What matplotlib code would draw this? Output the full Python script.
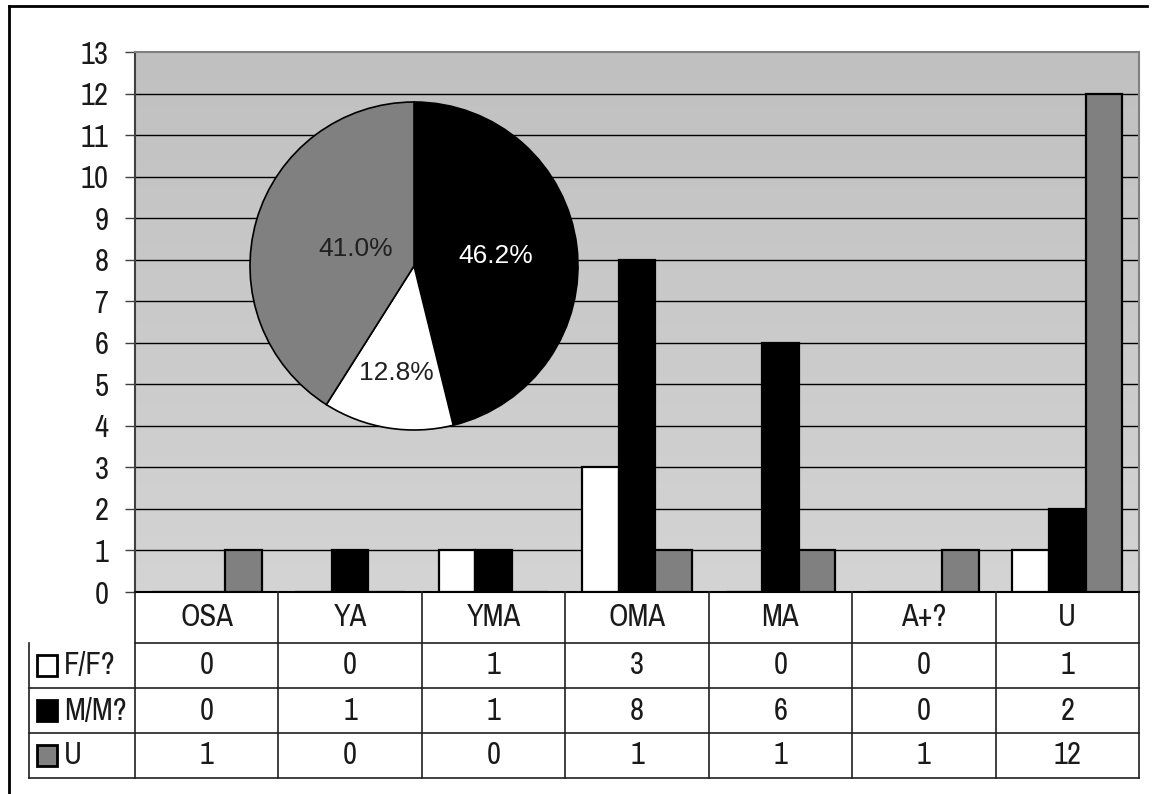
import numpy as np
import matplotlib
matplotlib.use("Agg")
import matplotlib.pyplot as plt
from matplotlib.lines import Line2D
from matplotlib.patches import Rectangle
import matplotlib.transforms as mtransforms

# data
categories = ["OSA", "YA", "YMA", "OMA", "MA", "A+?", "U"]
series_names = ["F/F?", "M/M?", "U"]
f_vals = [0, 0, 1, 3, 0, 0, 1]
m_vals = [0, 1, 1, 8, 6, 0, 2]
u_vals = [1, 0, 0, 1, 1, 1, 12]
yticks = list(range(0, 14))

colors = ["#FFFFFF", "#000000", "#808080"]

plt.rcParams['font.family'] = ['Archivo Narrow', 'DejaVu Sans']
plt.rcParams['font.weight'] = 'normal'
FS = 22
TXT = "#1A1A1A"

W, H = 1158, 794
fig = plt.figure(figsize=(W / 100, H / 100), dpi=100)

def px(x0, y0, x1, y1):
    return [x0 / W, 1 - y1 / H, (x1 - x0) / W, (y1 - y0) / H]

ax = fig.add_axes(px(135, 52, 1139, 592))
ax.set_xlim(-0.5, len(categories) - 0.5)
ax.set_ylim(0, 13)

# background gradient
grad = np.linspace(0, 1, 256).reshape(-1, 1)
cmap = matplotlib.colors.LinearSegmentedColormap.from_list("g", ["#D4D4D4", "#C0C0C0"])
ax.imshow(grad, extent=[0, 1, 0, 1], transform=ax.transAxes, cmap=cmap,
          origin="lower", aspect="auto", zorder=0)

for y in yticks[1:-1]:
    ax.axhline(y, color="black", lw=1, zorder=1)

x = np.arange(len(categories))
bw = 0.255
for i, vals in enumerate([f_vals, m_vals, u_vals]):
    ax.bar(x + (i - 1) * bw, vals, width=bw, color=colors[i], edgecolor="black",
           linewidth=1.6, zorder=3)

ax.set_yticks(yticks)
ax.set_yticklabels([str(t) for t in yticks], fontsize=FS, color=TXT)
ax.tick_params(axis="y", length=7, width=1, pad=12, color="#404040")
ax.set_xticks([])
for s in ["top", "right"]:
    ax.spines[s].set_color("#808080")
    ax.spines[s].set_linewidth(1.5)
ax.spines["left"].set_color("#404040")
ax.spines["left"].set_linewidth(1.5)
ax.spines["bottom"].set_color("black")
ax.spines["bottom"].set_linewidth(1.5)

# data table below the axes (x in data coords, y in pixels)
def ypx(y):
    return 1 - y / H

trans = mtransforms.blended_transform_factory(ax.transData, fig.transFigure)
ftrans = fig.transFigure
row_edges = [592, 643, 688, 733, 778]
x_left_px = 29
lc = "#202020"
fig.add_artist(Line2D([135 / W, 1139 / W], [ypx(643)] * 2, color=lc, lw=1.2, transform=ftrans))
for yy in row_edges[2:]:
    fig.add_artist(Line2D([x_left_px / W, 1139 / W], [ypx(yy)] * 2, color=lc, lw=1.2, transform=ftrans))
fig.add_artist(Line2D([x_left_px / W, x_left_px / W], [ypx(643), ypx(778)], color=lc, lw=1.2, transform=ftrans))
for b in np.arange(-0.5, len(categories), 1):
    fig.add_artist(Line2D([b, b], [ypx(592), ypx(778)], color=lc, lw=1.2, transform=trans))

for xi, c in zip(x, categories):
    fig.text(xi, ypx(617), c, transform=trans, ha="center", va="center", fontsize=FS, color=TXT)
for r, vals in enumerate([f_vals, m_vals, u_vals]):
    yc = (row_edges[r + 1] + row_edges[r + 2]) / 2
    for xi, v in zip(x, vals):
        fig.text(xi, ypx(yc), str(v), transform=trans, ha="center", va="center", fontsize=FS, color=TXT)
    fig.add_artist(Rectangle((37 / W, ypx(yc + 10)), 20 / W, 21 / H, transform=ftrans,
                             facecolor=colors[r], edgecolor="black", lw=2.0))
    fig.text(64 / W, ypx(yc), series_names[r], transform=ftrans, ha="left", va="center",
             fontsize=FS, color=TXT)

# pie inset
totals = [sum(f_vals), sum(m_vals), sum(u_vals)]
pie_order = [1, 0, 2]
pax = fig.add_axes(px(250, 102, 578, 430))
wedges, texts, autotexts = pax.pie([totals[i] for i in pie_order], colors=[colors[i] for i in pie_order],
                                   startangle=90, counterclock=False, autopct="%1.1f%%",
                                   wedgeprops=dict(edgecolor="black", linewidth=1.2))
pax.set_xlim(-1.0, 1.0)
pax.set_ylim(-1.0, 1.0)
pax.set_aspect("equal")
dist = [0.5, 0.66, 0.37]
for w, t, d, idx in zip(wedges, autotexts, dist, pie_order):
    ang = np.deg2rad((w.theta1 + w.theta2) / 2)
    t.set_position((d * np.cos(ang), d * np.sin(ang)))
    t.set_color("white" if idx == 1 else "#202020")
    t.set_family(["Liberation Sans", "DejaVu Sans"])
    t.set_fontsize(19)

# outer frame (left and top)
fig.add_artist(Line2D([9 / W, 9 / W], [ypx(6), 0], color="black", lw=2, transform=ftrans))
fig.add_artist(Line2D([9 / W, 1147 / W], [ypx(6), ypx(6)], color="black", lw=2, transform=ftrans))

fig.savefig("out.png", dpi=100)
